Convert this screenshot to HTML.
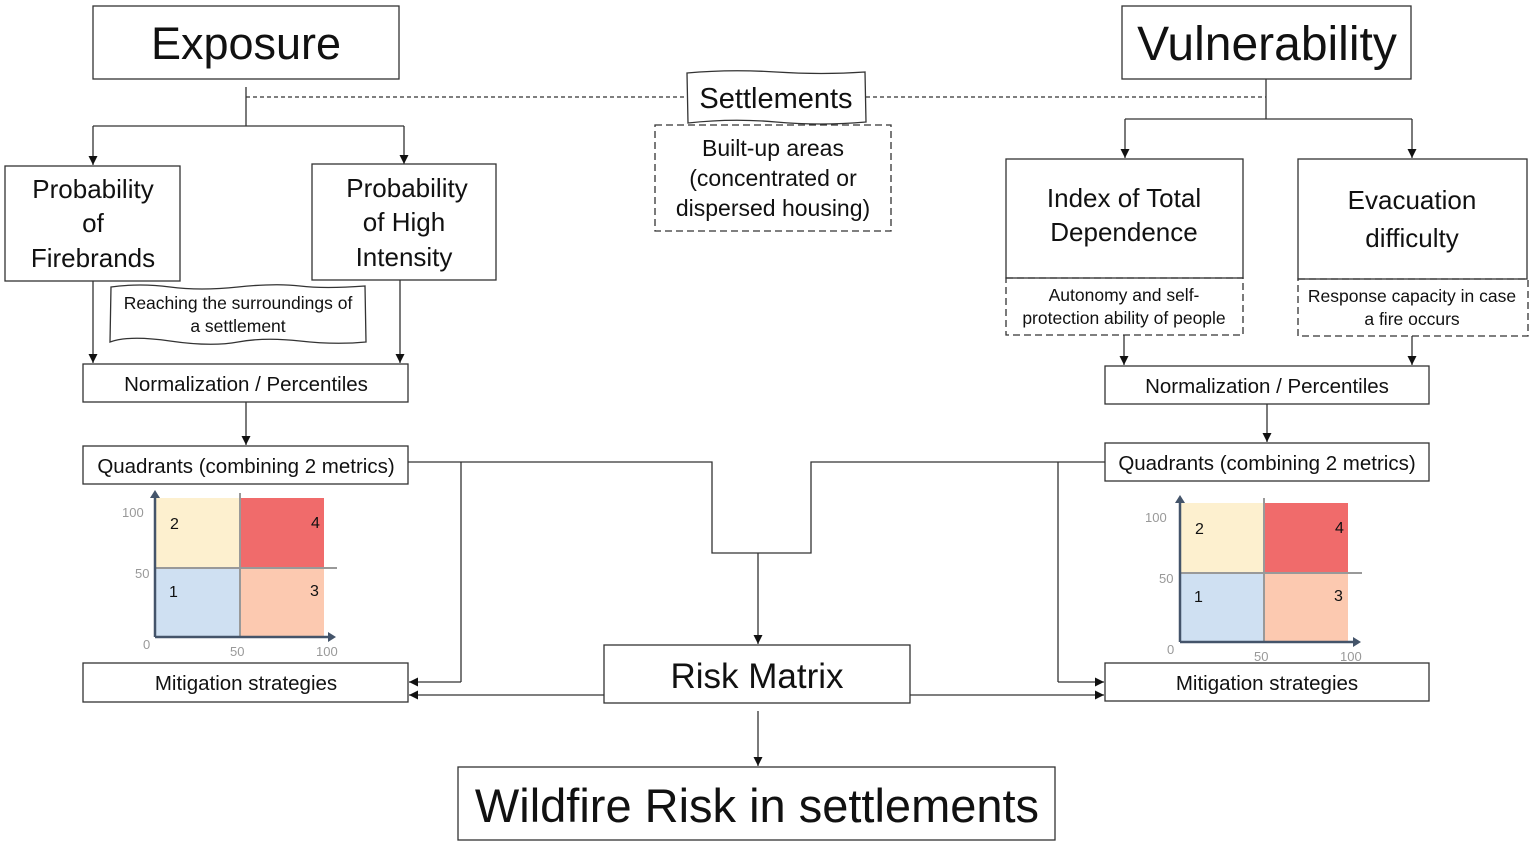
<!DOCTYPE html>
<html><head><meta charset="utf-8"><style>
html,body{margin:0;padding:0;background:#fff;}
svg{display:block;font-family:"Liberation Sans",sans-serif;}
</style></head><body>
<svg width="1535" height="847" viewBox="0 0 1535 847" xmlns="http://www.w3.org/2000/svg">
<defs>
<marker id="a" viewBox="0 0 10 10" refX="10" refY="5" markerWidth="9" markerHeight="9" markerUnits="userSpaceOnUse" orient="auto"><path d="M0,0L10,5L0,10z" fill="#111"/></marker>
</defs>
<g fill="none" stroke="#333" stroke-width="1.3">
<rect x="93" y="6" width="306" height="73"/>
<rect x="1122" y="6" width="289" height="73"/>
<line x1="246" y1="97" x2="686" y2="97" stroke-dasharray="4,3"/>
<line x1="866" y1="97" x2="1266" y2="97" stroke-dasharray="4,3"/>
<path d="M687,73 Q730,69 776,72 T865,72 L866,122 Q820,126 776,122 T688,123 Z"/>
<rect x="655" y="125" width="236" height="106" stroke-dasharray="7,4"/>
<path d="M246,87V126M93,126H404"/>
<line x1="93" y1="126" x2="93" y2="165" marker-end="url(#a)"/>
<line x1="404" y1="126" x2="404" y2="164" marker-end="url(#a)"/>
<rect x="5" y="166" width="175" height="115"/>
<rect x="312" y="164" width="184" height="116"/>
<path d="M111,287 Q140,283 170,287 T238,287 T300,286 T365,286 L366,342 Q335,345 300,341 T238,342 T170,341 T110,342 Z"/>
<line x1="93" y1="281" x2="93" y2="363" marker-end="url(#a)"/>
<line x1="400" y1="280" x2="400" y2="363" marker-end="url(#a)"/>
<rect x="83" y="364" width="325" height="38"/>
<line x1="246" y1="402" x2="246" y2="445" marker-end="url(#a)"/>
<rect x="83" y="446" width="325" height="38"/>
<rect x="83" y="663" width="325" height="39"/>
<path d="M408,462H712V553H811V462H1105"/>
<line x1="758" y1="553" x2="758" y2="644" marker-end="url(#a)"/>
<path d="M461,462V682"/>
<line x1="461" y1="682" x2="409" y2="682" marker-end="url(#a)"/>
<line x1="604" y1="695" x2="409" y2="695" marker-end="url(#a)"/>
<line x1="910" y1="695" x2="1104" y2="695" marker-end="url(#a)"/>
<path d="M1058,462V682"/>
<line x1="1058" y1="682" x2="1104" y2="682" marker-end="url(#a)"/>
<rect x="604" y="645" width="306" height="58"/>
<line x1="758" y1="711" x2="758" y2="766" marker-end="url(#a)"/>
<rect x="458" y="767" width="597" height="73"/>
<path d="M1266,79V119M1125,119H1412"/>
<line x1="1125" y1="119" x2="1125" y2="158" marker-end="url(#a)"/>
<line x1="1412" y1="119" x2="1412" y2="158" marker-end="url(#a)"/>
<rect x="1006" y="159" width="237" height="119"/>
<rect x="1006" y="278" width="237" height="57" stroke-dasharray="7,4"/>
<rect x="1298" y="159" width="229" height="120"/>
<rect x="1298" y="279" width="230" height="57" stroke-dasharray="7,4"/>
<line x1="1124" y1="335" x2="1124" y2="365" marker-end="url(#a)"/>
<line x1="1412" y1="336" x2="1412" y2="365" marker-end="url(#a)"/>
<rect x="1105" y="366" width="324" height="38"/>
<line x1="1267" y1="404" x2="1267" y2="442" marker-end="url(#a)"/>
<rect x="1105" y="443" width="324" height="38"/>
<rect x="1105" y="663" width="324" height="38"/>
</g>
<g id="c1">
<rect x="155" y="498" width="85" height="70" fill="#fdf0cf"/>
<rect x="240" y="498" width="84" height="70" fill="#f06b6b"/>
<rect x="155" y="568" width="85" height="69" fill="#cfe0f2"/>
<rect x="240" y="568" width="84" height="69" fill="#fcc9b0"/>
<line x1="155" y1="568" x2="337" y2="568" stroke="#999" stroke-width="2"/>
<line x1="240" y1="493" x2="240" y2="637" stroke="#999" stroke-width="2"/>
<path d="M155,637V496M155,637H329" stroke="#44546a" stroke-width="2.5" fill="none"/>
<path d="M150,498L155,490L160,498Z M328,632L336,637L328,642Z" fill="#44546a"/>
<g font-size="13" fill="#999"><text x="122" y="517">100</text><text x="135" y="578">50</text><text x="143" y="649">0</text><text x="230" y="656">50</text><text x="316" y="656">100</text></g>
<g font-size="16" fill="#111"><text x="170" y="529">2</text><text x="311" y="528">4</text><text x="169" y="597">1</text><text x="310" y="596">3</text></g>
</g>
<g transform="translate(1025,5)">
<rect x="155" y="498" width="84" height="70" fill="#fdf0cf"/>
<rect x="239" y="498" width="84" height="70" fill="#f06b6b"/>
<rect x="155" y="568" width="84" height="69" fill="#cfe0f2"/>
<rect x="239" y="568" width="84" height="69" fill="#fcc9b0"/>
<line x1="155" y1="568" x2="337" y2="568" stroke="#999" stroke-width="2"/>
<line x1="239" y1="493" x2="239" y2="637" stroke="#999" stroke-width="2"/>
<path d="M155,637V496M155,637H329" stroke="#44546a" stroke-width="2.5" fill="none"/>
<path d="M150,498L155,490L160,498Z M328,632L336,637L328,642Z" fill="#44546a"/>
<g font-size="13" fill="#999"><text x="120" y="517">100</text><text x="134" y="578">50</text><text x="142" y="649">0</text><text x="229" y="656">50</text><text x="315" y="656">100</text></g>
<g font-size="16" fill="#111"><text x="170" y="529">2</text><text x="310" y="528">4</text><text x="169" y="597">1</text><text x="309" y="596">3</text></g>
</g>
<g fill="#111" text-anchor="middle">
<text x="246" y="59" font-size="45">Exposure</text>
<text x="1267" y="60" font-size="48">Vulnerability</text>
<text x="776" y="108" font-size="29">Settlements</text>
<g font-size="23"><text x="773" y="156">Built-up areas</text><text x="773" y="186">(concentrated or</text><text x="773" y="216">dispersed housing)</text></g>
<g font-size="26"><text x="93" y="198">Probability</text><text x="93" y="232">of</text><text x="93" y="267">Firebrands</text>
<text x="407" y="197">Probability</text><text x="404" y="231">of High</text><text x="404" y="266">Intensity</text></g>
<g font-size="17.5"><text x="238" y="309">Reaching the surroundings of</text><text x="238" y="332">a settlement</text></g>
<g font-size="20.5"><text x="246" y="391">Normalization / Percentiles</text><text x="246" y="473">Quadrants (combining 2 metrics)</text><text x="246" y="690">Mitigation strategies</text>
<text x="1267" y="393">Normalization / Percentiles</text><text x="1267" y="470">Quadrants (combining 2 metrics)</text><text x="1267" y="690">Mitigation strategies</text></g>
<text x="757" y="688" font-size="35">Risk Matrix</text>
<text x="757" y="822" font-size="47">Wildfire Risk in settlements</text>
<g font-size="26"><text x="1124" y="207">Index of Total</text><text x="1124" y="241">Dependence</text>
<text x="1412" y="209">Evacuation</text><text x="1412" y="247">difficulty</text></g>
<g font-size="17.5"><text x="1124" y="301">Autonomy and self-</text><text x="1124" y="324">protection ability of people</text>
<text x="1412" y="302">Response capacity in case</text><text x="1412" y="325">a fire occurs</text></g>
</g>
</svg>
</body></html>
